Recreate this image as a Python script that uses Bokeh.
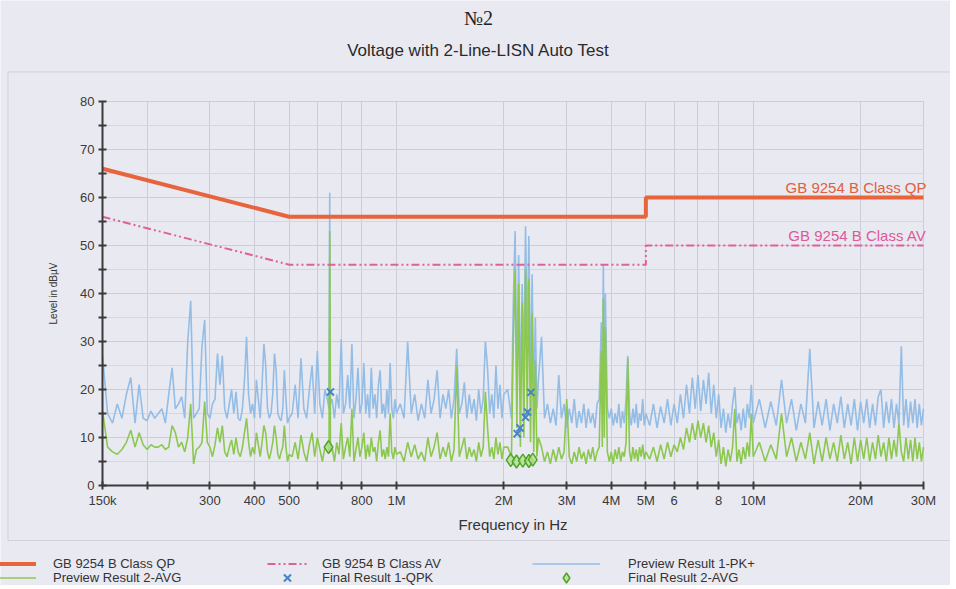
from bokeh.plotting import figure
from bokeh.models import (Range1d, FixedTicker, Label, BoxAnnotation, Legend, LegendItem)
from bokeh.embed import file_html
from bokeh.resources import INLINE

# ---------------- data (frequency in kHz, level in dBuV) ----------------
freq_a = [150, 155, 160, 165, 170, 175, 180, 185, 190, 195, 200, 205, 210, 215, 220, 225, 230, 235,
          240, 245, 250, 255, 260, 265, 270, 275, 280, 285, 290, 295, 300, 305, 310, 315, 320, 325,
          330, 335, 340, 345, 350, 355, 360, 365, 370, 375, 380, 385, 390, 395, 400, 405, 410, 415,
          420, 425, 430, 435, 440, 445, 450, 455, 460, 465, 470, 475, 480, 485, 490, 495, 500]
pk_a = [27, 15, 13, 17, 14, 19, 22.5, 13, 21, 14, 13.5, 15.5, 14, 15, 16, 13, 19, 24.5,
        16, 17, 18.5, 14, 30, 38.5, 14, 15, 16, 29, 34.5, 15, 14, 17, 18, 27.5, 21, 27,
        16, 14, 17, 20, 15, 19.5, 14, 13.5, 16, 22, 31, 19, 15, 17, 14, 22, 18, 14,
        21, 29.5, 25, 16, 14, 15, 19, 27.5, 24, 15, 14, 13.5, 16, 24, 18, 13, 14]
avg_a = [15.5, 8, 7, 6.5, 7.5, 9, 11.5, 8, 11, 8.5, 7.5, 8.5, 8, 8, 8.5, 7.5, 8, 12.5,
         11, 8, 9, 7, 10, 17, 4.5, 7.5, 8, 9, 17.5, 9, 8, 6, 8.5, 12, 9, 12.5,
         7, 6, 8, 9.5, 6.5, 10, 7, 6, 8, 11, 14, 9, 6, 8, 6.5, 11, 8.5, 6,
         9, 12.5, 11, 7, 5.5, 7, 9, 12.5, 10, 6.5, 5.5, 7, 8, 12.5, 8, 5, 6.5]

freq_b = [510, 520, 530, 540, 550, 560, 570, 580, 590, 600, 610, 620, 630, 640, 647, 650, 653, 660,
          670, 680, 690, 700, 710, 720, 730, 740, 750, 760, 770, 780, 790, 800, 810, 820, 830, 840,
          850, 860, 870, 880, 890, 900, 910, 920, 930, 940, 950, 960, 970, 980, 990, 1000]
pk_b = [15, 21, 14, 26.5, 16, 14, 20, 25, 15, 28, 17, 14, 20, 18, 16, 61, 17, 18,
        14, 19, 16, 30.5, 15, 17, 23, 16, 29.5, 14, 18, 24.5, 15, 17, 25.5, 15, 19, 14,
        24.5, 16, 19, 14, 21, 24, 15, 17, 14, 20, 15, 25.5, 16, 14, 18, 15]
avg_b = [6, 9, 5.5, 10.5, 7, 5, 8.5, 11, 6, 10, 7.5, 5, 8, 9, 7, 53, 7, 8,
         5, 9, 6.5, 13, 5.5, 8, 10, 6, 16, 5, 7.5, 10, 6, 8, 11, 5.5, 8.5, 6,
         10, 7, 8, 5, 9, 11.5, 6, 7.5, 5.5, 8, 6, 15, 7, 5.5, 8, 6.5]

freq_c = [1025, 1050, 1075, 1100, 1125, 1150, 1175, 1200, 1225, 1250, 1275, 1300, 1325, 1350,
          1375, 1400, 1425, 1450, 1475, 1500, 1525, 1550, 1575, 1600, 1625, 1650, 1675, 1700,
          1725, 1750, 1775, 1800, 1825, 1850, 1875, 1900, 1925, 1950, 1975, 2000]
pk_c = [17, 14, 30, 15, 19, 13.5, 17, 14, 22, 15, 18, 24, 14, 19,
        16, 20, 14, 18, 28.5, 15, 17, 21.5, 14, 19, 15, 18, 13.5, 20,
        15, 18, 30, 24.5, 15, 19, 14, 25, 16, 21, 14, 19]
avg_c = [7, 5, 9, 6, 8.5, 5.5, 7, 5, 10, 6, 8, 11, 5.5, 8,
         6, 9, 5, 7.5, 25, 6, 8, 10, 5.5, 8, 6, 7.5, 5, 9,
         6, 8, 19.5, 12, 6, 8, 5.5, 10, 6.5, 9, 5.5, 8]

freq_d = [2050, 2100, 2125, 2150, 2175, 2200, 2225, 2250, 2275, 2300, 2325, 2350, 2375, 2400,
          2425, 2450, 2475, 2500, 2550, 2600, 2650, 2700, 2750, 2800, 2850, 2900, 2950, 3000,
          3050, 3100, 3150, 3200, 3250, 3300, 3350, 3400, 3450, 3500, 3550, 3600, 3650, 3700,
          3750, 3775, 3800, 3825, 3850, 3900, 3950, 4000, 4050, 4100, 4150, 4200, 4250, 4300,
          4350, 4400, 4450, 4500, 4550, 4600, 4650, 4700, 4750, 4800, 4850, 4900, 4950, 5000]
pk_d = [20, 14, 38, 53, 22, 48, 18, 42, 25, 54, 30, 52, 20, 44,
        17, 35, 16, 22, 31, 14, 17, 13, 16, 12.5, 23, 14, 17, 12,
        16, 13, 18, 12, 15.5, 13, 17, 12, 16, 13, 15, 12, 17, 18,
        34, 18, 46, 20, 40, 16, 14, 16, 12.5, 15, 13, 17, 12, 15.5,
        13, 18, 27, 15, 12.5, 16, 13, 17, 12, 15, 13.5, 18, 12.5, 15]
avg_d = [8, 6, 30, 45, 12, 42, 8, 38, 10, 45, 15, 43, 9, 36,
         7, 26, 6, 10, 8, 5, 7, 4.5, 7.5, 5, 8, 5.5, 7, 18,
         6, 4.5, 7, 5, 8, 5.5, 7, 4.5, 7.5, 5.5, 8, 5, 7, 8,
         28, 8, 39, 10, 33, 7, 5, 7, 4.5, 7.5, 5.5, 8, 5, 7,
         6, 9, 26.5, 7, 5, 8, 5.5, 7.5, 5, 8, 6, 8.5, 5.5, 7]

freq_e = [5125, 5250, 5375, 5500, 5625, 5750, 5875, 6000, 6125, 6250, 6375, 6500, 6625, 6750,
          6875, 7000, 7125, 7250, 7375, 7500, 7625, 7750, 7875, 8000, 8125, 8250, 8375, 8500,
          8625, 8750, 8875, 9000, 9125, 9250, 9375, 9500, 9625, 9750, 9875, 10000]
pk_e = [12.5, 17, 12, 16.5, 13, 18, 12.5, 17, 13, 19, 14, 21, 15, 22.5,
        16, 23, 15.5, 22, 17, 23.5, 15, 21, 14, 19, 12, 16, 11, 15,
        12, 17, 20.5, 13, 15, 11.5, 16, 12, 17, 14, 21, 13]
avg_e = [5.5, 8, 5, 8.5, 5.5, 9, 6, 8.5, 7, 10, 7.5, 12, 9, 13,
         9.5, 13.5, 10, 13, 9, 12.5, 8, 11, 6, 9.5, 4.5, 8, 4, 7.5,
         5, 8, 16, 5, 7.5, 4.5, 8, 5.5, 9, 6, 15, 6]

freq_f = [10400, 10800, 11200, 11600, 12000, 12400, 12800, 13200, 13600, 14000,
          14400, 14800, 15200, 15600, 16000, 16400, 16800, 17200, 17600, 18000,
          18400, 18800, 19200, 19600, 20000, 20400, 20800, 21200, 21600, 22000,
          22400, 22800, 23200, 23600, 24000, 24400, 24800, 25200, 25600, 26000,
          26400, 26800, 27200, 27600, 28000, 28400, 28800, 29200, 29600, 30000]
pk_f = [18, 12, 17.5, 12.5, 22, 13, 18, 11.5, 17, 13,
        28.5, 12, 17.5, 12.5, 18, 11.5, 17, 13, 18.5, 12,
        17, 12.5, 18, 11.5, 17.5, 13, 18, 12, 17, 12.5,
        18.5, 20, 12, 17.5, 13, 18, 12, 17, 13, 29,
        12.5, 18, 12, 17.5, 13, 18, 12, 17, 12.5, 16]
avg_f = [9, 5, 8.5, 5.5, 15, 6, 10, 5, 9, 5.5,
         11, 4.5, 9.5, 5, 10, 5.5, 9, 5, 10.5, 5.5,
         9, 4.5, 10, 5, 9.5, 5.5, 10, 5, 9, 5.5,
         10.5, 6, 9, 5, 10, 5.5, 9.5, 6, 13, 7,
         5, 10, 5.5, 9.5, 5, 10, 5.5, 9, 5, 8]

qp_freq = [150, 500, 5000, 5000, 30000]
qp_level = [66, 56, 56, 60, 60]
av_freq = [150, 500, 5000, 5000, 30000]
av_level = [56, 46, 46, 50, 50]

qpk_freq = [653, 2180, 2220, 2300, 2330, 2380]
qpk_level = [19.5, 10.8, 12.0, 14.2, 15.3, 19.4]
avgf_freq = [645, 2090, 2170, 2260, 2350, 2410]
avgf_level = [8.0, 5.3, 5.0, 5.2, 5.1, 5.4]

x_ticks = [150, 200, 300, 400, 500, 600, 700, 800, 1000, 2000, 3000, 4000, 5000,
           6000, 7000, 8000, 10000, 20000, 30000]
x_tick_labels = ["150k", "", "300", "400", "500", "", "", "800", "1M", "2M", "3M", "4M", "5M",
                 "6", "", "8", "10M", "20M", "30M"]
y_ticks = [0, 10, 20, 30, 40, 50, 60, 70, 80]
y_minor = [5, 15, 25, 35, 45, 55, 65, 75]

freq = freq_a + freq_b + freq_c + freq_d + freq_e + freq_f
pk = pk_a + pk_b + pk_c + pk_d + pk_e + pk_f
avg = avg_a + avg_b + avg_c + avg_d + avg_e + avg_f

# ---------------- figure ----------------
# The frame fills the whole canvas; the axes are drawn at fixed data locations
# so that titles, legend and the panel box can live inside the frame.
BG = "#e9e9f2"
FONT = "Liberation Sans"
X_LO, X_HI = 150, 30000
Y_LO, Y_HI = 0, 80
p = figure(width=950, height=585, x_axis_type="log", output_backend="svg", toolbar_location=None,
           x_range=Range1d(77.65, 35713), y_range=Range1d(-20.833, 101.042),
           min_border=0, min_border_left=0, min_border_right=0,
           min_border_top=0, min_border_bottom=0)
p.background_fill_color = BG
p.border_fill_color = BG
p.outline_line_color = None

xa = p.xaxis[0]
ya = p.yaxis[0]
xa.fixed_location = Y_LO
ya.fixed_location = X_LO
xa.bounds = (X_LO, X_HI)
ya.bounds = (Y_LO, Y_HI)

xa.ticker = FixedTicker(ticks=x_ticks)
xa.major_label_overrides = {t: l for t, l in zip(x_ticks, x_tick_labels)}
ya.ticker = FixedTicker(ticks=y_ticks, minor_ticks=y_minor)
for ax in (xa, ya):
    ax.axis_line_color = "#3a3a3a"
    ax.axis_line_width = 2
    ax.major_tick_line_color = "#3a3a3a"
    ax.major_tick_line_width = 2
    ax.major_tick_in = 4
    ax.major_tick_out = 4
    ax.major_label_text_font = FONT
    ax.major_label_text_font_size = "13px"
    ax.major_label_text_color = "#3a3a3a"
xa.minor_tick_line_color = None
ya.minor_tick_line_color = "#3a3a3a"
ya.minor_tick_line_width = 2
ya.minor_tick_in = 4
ya.minor_tick_out = 4
xa.major_label_standoff = 3
ya.major_label_standoff = 4

xa.axis_label = "Frequency in Hz"
xa.axis_label_text_font = FONT
xa.axis_label_text_font_size = "15px"
xa.axis_label_text_font_style = "normal"
xa.axis_label_text_color = "#333333"
xa.axis_label_standoff = 5
ya.axis_label = "Level in dBµV"
ya.axis_label_text_font = FONT
ya.axis_label_text_font_size = "10px"
ya.axis_label_text_font_style = "normal"
ya.axis_label_text_color = "#333333"
ya.axis_label_standoff = 18

gx = p.xgrid[0]
gy = p.ygrid[0]
gx.grid_line_color = "#cdcdd8"
gy.grid_line_color = "#cdcdd8"
gy.minor_grid_line_color = "#d6d6e0"
gx.bounds = (X_LO, X_HI)
gy.bounds = (Y_LO, Y_HI)
if "cross_bounds" in gx.properties():
    gx.cross_bounds = (Y_LO, Y_HI)
    gy.cross_bounds = (X_LO, X_HI)
else:
    gx.visible = False
    gy.visible = False
    p.segment(x0=x_ticks, y0=[Y_LO] * len(x_ticks), x1=x_ticks, y1=[Y_HI] * len(x_ticks),
              line_color="#cdcdd8", level="underlay")
    p.segment(x0=[X_LO] * len(y_ticks + y_minor), y0=y_ticks + y_minor,
              x1=[X_HI] * len(y_ticks + y_minor), y1=y_ticks + y_minor,
              line_color="#d2d2dc", level="underlay")

# outer frame of the chart panel
p.add_layout(BoxAnnotation(left=81.5, right=40000, top=86.15, bottom=-11.46,
                           fill_alpha=0, line_color="#9c9ca8", line_width=1, level="underlay"))

# ---------------- series ----------------
r_pk = p.line(freq, pk, line_color="#94bde6", line_width=1.6)
r_avg = p.line(freq, avg, line_color="#8cc850", line_width=1.6)
r_qp = p.line(qp_freq, qp_level, line_color="#e8643c", line_width=4)
r_av = p.line(av_freq, av_level, line_color="#e0609a", line_width=2, line_dash="8 3 2 3 2 3")
r_qpk = p.scatter(qpk_freq, qpk_level, marker="x", size=10, line_color="#4682c8", line_width=2)
r_avgf = p.scatter(avgf_freq, avgf_level, marker="diamond", size=13, line_color="#4fa52a",
                   line_width=1.5, fill_color="#b4e08a", fill_alpha=0.8)

p.add_layout(Label(x=30000, y=60.3, x_offset=3, text="GB 9254 B Class QP", text_align="right",
                   text_baseline="bottom", text_font=FONT, text_font_size="15px",
                   text_color="#e0603c"))
p.add_layout(Label(x=30000, y=50.3, x_offset=3, text="GB 9254 B Class AV", text_align="right",
                   text_baseline="bottom", text_font=FONT, text_font_size="15px",
                   text_color="#dd5a96"))

# ---------------- titles ----------------
p.add_layout(Label(x=1698, y=97.3, text="№2", text_align="center", text_baseline="middle",
                   text_font="Liberation Serif", text_font_size="20px", text_color="#222222"))
p.add_layout(Label(x=1698, y=90.6, text="Voltage with 2-Line-LISN Auto Test", text_align="center",
                   text_baseline="middle", text_font=FONT, text_font_size="17px",
                   text_color="#2a2a2a"))

# ---------------- legend: one entry per box, 3 columns x 2 rows ----------------
def legend_entry(label, renderer, x, y, gw, standoff):
    lg = Legend(items=[LegendItem(label=label, renderers=[renderer])], location=(x, y),
                orientation="vertical", glyph_width=gw, glyph_height=25, label_height=13,
                label_standoff=standoff, spacing=0, padding=0, margin=0,
                background_fill_alpha=0, border_line_alpha=0,
                label_text_font=FONT, label_text_font_size="13px", label_text_color="#333333")
    p.add_layout(lg)

ROW1, ROW2 = 9, -5
legend_entry("GB 9254 B Class QP", r_qp, -2, ROW1, 38, 17)
legend_entry("Preview Result 2-AVG", r_avg, -2, ROW2, 38, 17)
legend_entry("GB 9254 B Class AV", r_av, 267, ROW1, 40, 15)
legend_entry("Final Result 1-QPK", r_qpk, 267, ROW2, 40, 15)
legend_entry("Preview Result 1-PK+", r_pk, 532, ROW1, 68, 28)
legend_entry("Final Result 2-AVG", r_avgf, 532, ROW2, 68, 28)

open("out.html", "w").write(file_html(p, INLINE))
